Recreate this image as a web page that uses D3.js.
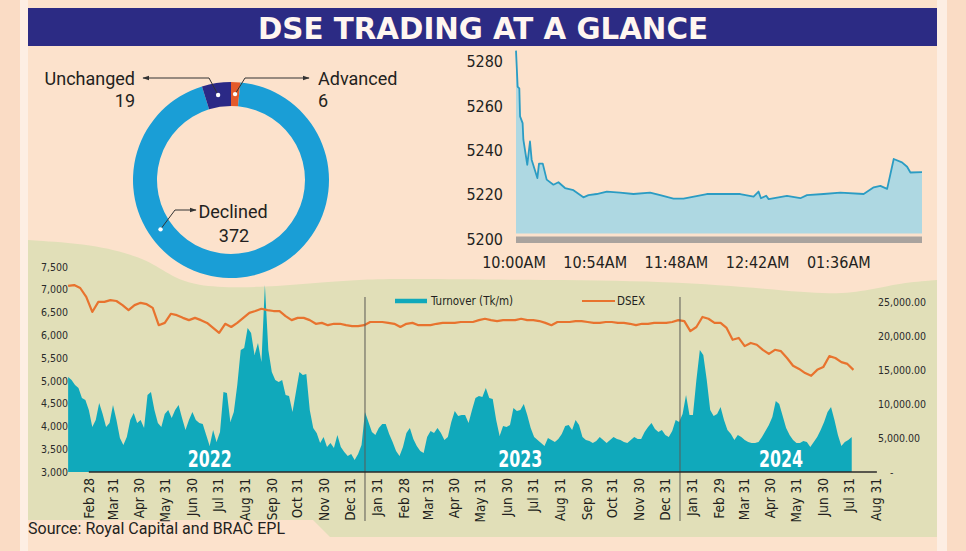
<!DOCTYPE html>
<html><head><meta charset="utf-8">
<script src="https://cdn.jsdelivr.net/npm/d3@7"></script>
<style>
html,body{margin:0;padding:0;background:#FADCC5;}
svg{display:block;}
</style></head><body>
<svg id="c" width="966" height="551"></svg>
<script>
// ---------------- DATA ----------------
const titleText = "DSE TRADING AT A GLANCE";
const sourceText = "Source: Royal Capital and BRAC EPL";

const breadthLabels = ["Advanced", "Declined", "Unchanged"];
const breadthValues = [6, 372, 19];

const intradayMinutes = [0,1.1,2.2,2.7,4.4,4.9,7.5,9.3,10.4,14.2,15.3,17.8,20.4,24.9,28.2,32.6,38.2,44.8,48.2,53.7,60.4,69.2,78.1,89.2,95.9,104.7,111.4,126.9,149.1,158,161.3,162.9,166.4,168,180.2,189.1,193.5,204.6,215.7,231.2,237.9,242.3,246.8,249,251.2,256.7,260.1,262.3,270];
const intradayValues = [5285,5268.7,5268,5255.3,5252.3,5244.8,5233.5,5244,5235.8,5227.5,5234,5234,5226.8,5224.5,5225.6,5223,5222,5218.8,5219.8,5220.3,5221.4,5220.9,5220.3,5220.9,5219.8,5218.2,5218.2,5220.3,5220.3,5219.1,5221.4,5218.4,5219.5,5218,5219.5,5218.4,5219.8,5220.3,5220.9,5220.3,5223.3,5224,5222.6,5229.3,5236.1,5234.6,5232.6,5230,5230.2];
const intradayYTicks = [5200, 5220, 5240, 5260, 5280];
const intradayXTicks = [0, 54, 108, 162, 216];
const intradayXLabels = ["10:00AM", "10:54AM", "11:48AM", "12:42AM", "01:36AM"];

// turnover: one reading every 4 days from 2022-01-22 (Tk million)
const turnoverStart = "2022-01-22";
const turnover = [13970,13530,12790,12350,10880,10590,9120,6620,7650,10150,
 8530,6620,7210,9850,7650,5000,3970,5150,7650,8680,
 7210,7650,6470,11320,11760,9120,7210,6620,8530,9120,
 7940,9120,9850,7940,6180,7650,8820,7650,7210,7060,
 5440,3820,6180,4410,5880,11760,11620,7350,8820,12790,
 17940,18240,21180,20440,17210,18970,16180,27500,17940,14710,
 13530,13240,13530,11320,11180,8820,11760,14710,14260,14410,
 9120,6470,5740,4260,5150,3680,4260,3530,5440,3680,
 2940,2350,2650,1760,2650,3970,8820,7350,5880,5440,
 6470,7060,7060,5590,4410,3090,2350,3680,5740,6470,
 4850,3820,3090,2790,5150,6030,5740,6470,5740,4710,
 5150,7350,8970,8240,8380,8380,7210,9120,10880,11180,
 11030,12350,10880,10740,7650,5290,6760,6620,6910,9410,
 8970,9120,10000,8380,6470,5150,4710,4260,3820,5000,
 4710,4410,4850,5590,6760,6910,6180,7650,6910,5150,
 4710,4560,4260,4560,5150,4710,4260,4710,5150,4850,
 4710,4410,4260,4710,5150,4850,4850,5880,6620,7210,
 6320,5880,6180,5440,5150,6030,7650,7350,8530,11320,
 8380,8380,13530,17940,17210,13530,9120,8240,8530,9560,
 7650,6180,5590,4710,5440,5150,4710,4410,4260,4260,
 4410,5150,6030,6910,8090,10440,10000,8240,6470,5440,
 4710,4260,4260,4560,4410,3680,4410,5150,6180,7350,
 8820,9560,7650,5440,3820,4410,4710,5150];

// DSEX: one reading per week from 2022-01-22
const dsexStart = "2022-01-22";
const dsex = [7080,7100,7035,6840,6510,6730,6730,6770,6750,6660,
 6550,6660,6710,6680,6600,6220,6270,6470,6440,6380,
 6330,6380,6330,6270,6160,6050,6250,6180,6270,6380,
 6490,6530,6580,6550,6530,6530,6420,6330,6380,6380,
 6330,6250,6270,6220,6250,6250,6220,6200,6200,6220,
 6290,6290,6290,6270,6250,6180,6250,6270,6220,6220,
 6220,6250,6270,6270,6270,6290,6290,6290,6330,6360,
 6330,6310,6330,6330,6330,6360,6330,6330,6310,6270,
 6220,6290,6290,6290,6310,6310,6290,6270,6270,6290,
 6290,6270,6270,6250,6220,6250,6250,6270,6270,6270,
 6290,6330,6310,6090,6180,6400,6360,6270,6270,6160,
 5900,5940,5760,5830,5790,5680,5590,5680,5650,5500,
 5330,5260,5170,5110,5240,5300,5540,5500,5410,5370,
 5240];

const monthTickDates = ["2022-02-28","2022-03-31","2022-04-30","2022-05-31","2022-06-30","2022-07-31","2022-08-31","2022-09-30","2022-10-31","2022-11-30","2022-12-31",
 "2023-01-31","2023-02-28","2023-03-31","2023-04-30","2023-05-31","2023-06-30","2023-07-31","2023-08-31","2023-09-30","2023-10-31","2023-11-30","2023-12-31",
 "2024-01-31","2024-02-29","2024-03-31","2024-04-30","2024-05-31","2024-06-30","2024-07-31","2024-08-31"];
const monthTickLabels = ["Feb 28","Mar 31","Apr 30","May 31","Jun 30","Jul 31","Aug 31","Sep 30","Oct 31","Nov 30","Dec 31",
 "Jan 31","Feb 28","Mar 31","Apr 30","May 31","Jun 30","Jul 31","Aug 31","Sep 30","Oct 31","Nov 30","Dec 31",
 "Jan 31","Feb 29","Mar 31","Apr 30","May 31","Jun 30","Jul 31","Aug 31"];
const dsexTicks = [3000,3500,4000,4500,5000,5500,6000,6500,7000,7500];
const turnoverTicks = [0,5000,10000,15000,20000,25000];
const turnoverTickLabels = ["-","5,000.00","10,000.00","15,000.00","20,000.00","25,000.00"];
const yearLabels = ["2022","2023","2024"];
const yearLabelDates = ["2022-07-05","2023-06-30","2024-04-27"];
const yearBoundaries = ["2023-01-01","2024-01-01"];
const legendLabels = ["Turnover (Tk/m)", "DSEX"];

// ---------------- STYLE ----------------
const NARROW = "'Liberation Sans Narrow','DejaVu Sans Condensed','Roboto Condensed',sans-serif";
const REG = "Roboto,'Liberation Sans',sans-serif";
const C = {
  peach: "#FCE2CC", outer: "#FADCC5", strip: "#FDEEE3", green: "#E1DFB8",
  navy: "#2C2B84", teal: "#10A9BB", orange: "#E8732E", declined: "#1A9ED6",
  unchanged: "#2B2986", advanced: "#E55A2A", intraLine: "#2B9CC3",
  intraFill: "#AED8E2", gray: "#A9A39E", text: "#231F20"
};

const svg = d3.select("#c");
const parse = d3.timeParse("%Y-%m-%d");

// ---------------- BACKGROUND ----------------
svg.append("rect").attr("width",966).attr("height",551).attr("fill",C.outer);
svg.append("rect").attr("x",20).attr("y",0).attr("width",927).attr("height",551).attr("fill",C.strip);
svg.append("rect").attr("x",28).attr("y",0).attr("width",909).attr("height",551).attr("fill",C.peach);

const greenTop = [[28,240],[92,244],[142,257],[165,272],[193,287],[260,288],[327,282],[380,278],[527,280],[670,281],[770,289],[833,295],[870,290],[900,283],[937,280]];
const topPath = d3.line().curve(d3.curveBasis)(greenTop);
svg.append("path").attr("d", topPath + "L937,537L28,537Z").attr("fill", C.green);
svg.append("path").attr("d","M28,520L313,520L331,538L28,538Z").attr("fill",C.peach);
svg.append("text").attr("x",28).attr("y",534).attr("font-family",REG).attr("font-size",16)
  .attr("fill",C.text).text(sourceText);

// ---------------- TITLE ----------------
svg.append("rect").attr("x",28).attr("y",8).attr("width",909).attr("height",38).attr("fill",C.navy);
svg.append("text").attr("x",258).attr("y",38.5).attr("font-family",NARROW).attr("font-weight","bold")
  .attr("font-size",30).attr("fill","#FFF6F0").attr("textLength",450).attr("lengthAdjust","spacingAndGlyphs")
  .text(titleText);

// ---------------- DONUT ----------------
const defs = svg.append("defs");
defs.append("marker").attr("id","arr").attr("viewBox","0 0 10 10").attr("refX",9).attr("refY",5)
  .attr("markerWidth",7).attr("markerHeight",7).attr("orient","auto-start-reverse")
  .append("path").attr("d","M0,1.5L10,5L0,8.5Z").attr("fill","#333");

const dc = {x:231, y:180};
const pie = d3.pie().sort(null).value(d=>d)(breadthValues);
const arc = d3.arc().innerRadius(74).outerRadius(98);
const donut = svg.append("g").attr("transform",`translate(${dc.x},${dc.y})`);
const sliceColors = [C.advanced, C.declined, C.unchanged];
donut.selectAll("path").data(pie).join("path").attr("d",arc).attr("fill",(d,i)=>sliceColors[i]);

function dotAt(angleDeg){ const a = angleDeg*Math.PI/180, r=86; return [dc.x + r*Math.sin(a), dc.y - r*Math.cos(a)]; }
const calloutAngle = [ (pie[0].startAngle+pie[0].endAngle)/2*180/Math.PI, 235, (pie[2].startAngle+pie[2].endAngle)/2*180/Math.PI ];
const callouts = [
  {i:0, elbow:[245,78], end:[309,78], tx:318, anchor:"start", ly:85, vy:107},
  {i:1, elbow:[175,210], end:[196,210], tx:233, anchor:"middle", ly:218, vy:242},
  {i:2, elbow:[209,78], end:[143,78], tx:135, anchor:"end", ly:85, vy:107}
];
callouts.forEach(c=>{
  const p = dotAt(calloutAngle[c.i]);
  svg.append("path").attr("d",`M${p[0]},${p[1]}L${c.elbow[0]},${c.elbow[1]}L${c.end[0]},${c.end[1]}`)
    .attr("fill","none").attr("stroke","#333").attr("stroke-width",1).attr("marker-end","url(#arr)");
  svg.append("circle").attr("cx",p[0]).attr("cy",p[1]).attr("r",2.2).attr("fill","#fff");
  svg.append("text").attr("x",c.tx).attr("y",c.ly).attr("text-anchor",c.anchor).attr("font-family",REG)
    .attr("font-size",18).attr("fill",C.text).text(breadthLabels[c.i]);
  svg.append("text").attr("x",c.i===1?234:c.tx).attr("y",c.vy).attr("text-anchor",c.anchor).attr("font-family",REG)
    .attr("font-size",18).attr("fill",C.text).text(breadthValues[c.i]);
});

// ---------------- INTRADAY ----------------
const ix = d3.scaleLinear().domain([0,270]).range([516,922]);
const iy = d3.scaleLinear().domain([5200,5280]).range([239,61.7]);
const intra = intradayMinutes.map((m,i)=>({m, v:intradayValues[i]}));
svg.append("path").datum(intra)
  .attr("d", d3.area().x(d=>ix(d.m)).y0(iy(5200)-5.5).y1(d=>iy(d.v)))
  .attr("fill", C.intraFill);
svg.append("path").datum(intra)
  .attr("d", d3.line().x(d=>ix(d.m)).y(d=>iy(d.v)))
  .attr("fill","none").attr("stroke",C.intraLine).attr("stroke-width",1.8).attr("stroke-linejoin","round");
svg.append("rect").attr("x",ix(0)).attr("y",iy(5200)-2.5).attr("width",ix(270)-ix(0)).attr("height",6.5).attr("fill",C.gray);
svg.append("g").selectAll("text").data(intradayYTicks).join("text")
  .attr("x",503).attr("y",d=>iy(d)).attr("dy","0.36em").attr("text-anchor","end")
  .attr("font-family",NARROW).attr("font-size",16).attr("fill",C.text).text(d=>d);
svg.append("g").selectAll("text").data(intradayXTicks).join("text")
  .attr("x",d=>ix(d)-2).attr("y",268).attr("text-anchor","middle")
  .attr("font-family",NARROW).attr("font-size",16).attr("fill",C.text).text((d,i)=>intradayXLabels[i]);

// ---------------- LONG-TERM CHART ----------------
const x = d3.scaleTime().domain([new Date(2022,0,1), new Date(2024,7,31)]).range([50, 889.7]);
const yL = d3.scaleLinear().domain([3000,7500]).range([472, 266.8]);
const yR = d3.scaleLinear().domain([0,25000]).range([472, 302]);
const tStart = parse(turnoverStart), dStart = parse(dsexStart);
const tSeries = turnover.map((v,i)=>({d:d3.timeDay.offset(tStart, 4*i), v}));
const dSeries = dsex.map((v,i)=>({d:d3.timeDay.offset(dStart, 7*i), v}));

svg.append("path").datum(tSeries)
  .attr("d", d3.area().x(d=>x(d.d)).y0(yR(0)).y1(d=>yR(d.v)))
  .attr("fill", C.teal);
svg.append("path").datum(dSeries)
  .attr("d", d3.line().x(d=>x(d.d)).y(d=>yL(d.v)))
  .attr("fill","none").attr("stroke",C.orange).attr("stroke-width",2.2).attr("stroke-linejoin","round");

svg.append("g").selectAll("line").data(yearBoundaries).join("line")
  .attr("x1",d=>x(parse(d))).attr("x2",d=>x(parse(d))).attr("y1",297).attr("y2",521)
  .attr("stroke","#5a5a55").attr("stroke-width",1);
svg.append("g").selectAll("text").data(yearLabels).join("text")
  .attr("x",(d,i)=>x(parse(yearLabelDates[i]))-22).attr("y",467)
  .attr("textLength",44).attr("lengthAdjust","spacingAndGlyphs")
  .attr("font-family",NARROW).attr("font-weight","bold").attr("font-size",23).attr("fill","#fff").text(d=>d);

const monthMid = s => { const d = parse(s); return new Date(d.getFullYear(), d.getMonth(), 15); };
svg.append("line").attr("x1",x(monthMid(monthTickDates[0]))).attr("x2",x(monthMid(monthTickDates[monthTickDates.length-1]))+1)
  .attr("y1",472).attr("y2",472).attr("stroke","#2a2a2a").attr("stroke-width",1.5);
svg.append("g").selectAll("text").data(monthTickDates).join("text")
  .attr("transform",d=>`translate(${x(monthMid(d))},478) rotate(-90)`)
  .attr("dy","0.35em").attr("text-anchor","end")
  .attr("font-family",NARROW).attr("font-size",13.5).attr("fill",C.text)
  .text((d,i)=>monthTickLabels[i]);

svg.append("g").selectAll("text").data(dsexTicks).join("text")
  .attr("x",68).attr("y",d=>yL(d)).attr("dy","0.36em").attr("text-anchor","end")
  .attr("font-family",NARROW).attr("font-size",10.5).attr("fill","#2a2a2a")
  .text(d=>d3.format(",")(d));
svg.append("g").selectAll("text").data(turnoverTicks).join("text")
  .attr("x",(d,i)=>i===0?890:878).attr("y",d=>yR(d)).attr("dy","0.36em").attr("text-anchor","start")
  .attr("font-family",NARROW).attr("font-size",10.5).attr("fill","#2a2a2a")
  .text((d,i)=>turnoverTickLabels[i]);

const lg = svg.append("g");
lg.append("line").attr("x1",395).attr("x2",427).attr("y1",301).attr("y2",301).attr("stroke",C.teal).attr("stroke-width",4.5);
lg.append("text").attr("x",431).attr("y",301).attr("dy","0.35em").attr("font-family",NARROW).attr("font-size",11.5).attr("fill",C.text).text(legendLabels[0]);
lg.append("line").attr("x1",582).attr("x2",615).attr("y1",301).attr("y2",301).attr("stroke",C.orange).attr("stroke-width",2.2);
lg.append("text").attr("x",617).attr("y",301).attr("dy","0.35em").attr("font-family",NARROW).attr("font-size",11.5).attr("fill",C.text).text(legendLabels[1]);
</script>
</body></html>
